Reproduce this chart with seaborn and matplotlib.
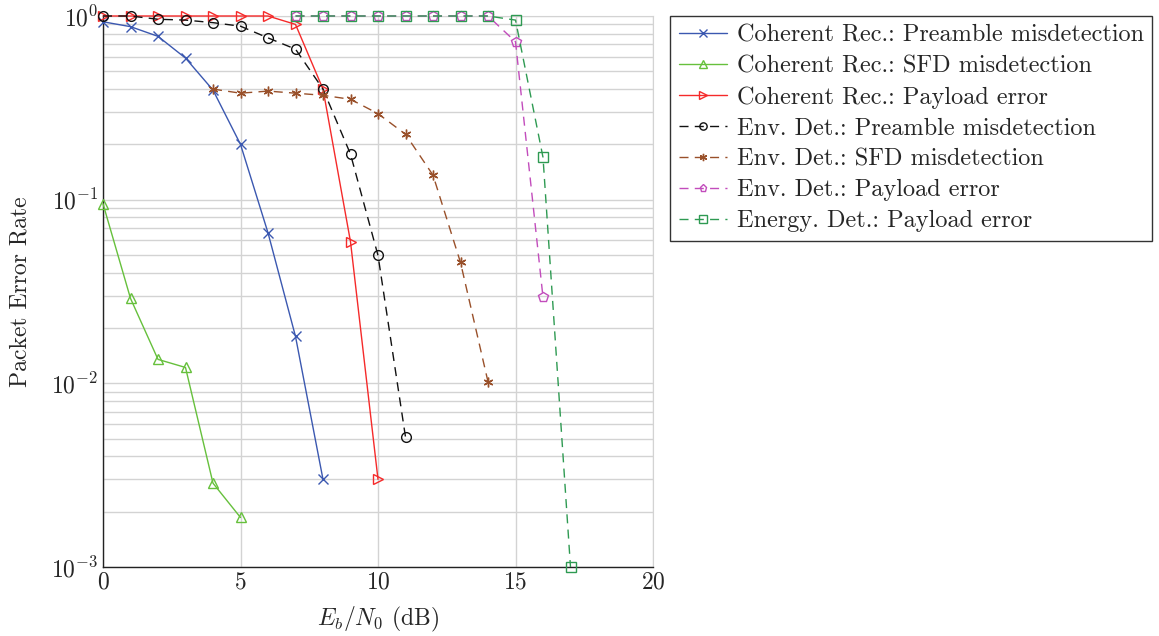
import numpy as np
import pandas as pd
import seaborn as sns
import matplotlib.pyplot as plt
from matplotlib.ticker import LogLocator, LogFormatterSciNotation, NullFormatter

# values
x_coh_pre = [0, 1, 2, 3, 4, 5, 6, 7, 8]
y_coh_pre = [0.93, 0.875, 0.775, 0.59, 0.395, 0.2, 0.066, 0.018, 0.003]

x_coh_sfd = [0, 1, 2, 3, 4, 5]
y_coh_sfd = [0.095, 0.029, 0.0135, 0.0122, 0.00286, 0.00186]

x_coh_pay = [0, 1, 2, 3, 4, 5, 6, 7, 8, 9, 10]
y_coh_pay = [1.0, 1.0, 1.0, 1.0, 1.0, 1.0, 1.0, 0.90, 0.40, 0.059, 0.003]

x_env_pre = [0, 1, 2, 3, 4, 5, 6, 7, 8, 9, 10, 11]
y_env_pre = [1.0, 1.0, 0.96, 0.95, 0.92, 0.88, 0.76, 0.66, 0.40, 0.177, 0.0497, 0.0051]

x_env_sfd = [4, 5, 6, 7, 8, 9, 10, 11, 12, 13, 14]
y_env_sfd = [0.40, 0.38, 0.39, 0.38, 0.37, 0.352, 0.294, 0.227, 0.136, 0.0455, 0.0102]

x_env_pay = [7, 8, 9, 10, 11, 12, 13, 14, 15, 16]
y_env_pay = [1.0, 1.0, 1.0, 1.0, 1.0, 1.0, 1.0, 1.0, 0.724, 0.0294]

x_ene_pay = [7, 8, 9, 10, 11, 12, 13, 14, 15, 16, 17]
y_ene_pay = [1.0, 1.0, 1.0, 1.0, 1.0, 1.0, 1.0, 1.0, 0.95, 0.17, 0.001]

dash = (0, (6.5, 4.5))
series = [
    ("Coherent Rec.: Preamble misdetection", x_coh_pre, y_coh_pre, "#3b58b0", "x", "-"),
    ("Coherent Rec.: SFD misdetection", x_coh_sfd, y_coh_sfd, "#66c03c", "^", "-"),
    ("Coherent Rec.: Payload error", x_coh_pay, y_coh_pay, "#f52a2a", ">", "-"),
    ("Env. Det.: Preamble misdetection", x_env_pre, y_env_pre, "#111111", "o", dash),
    ("Env. Det.: SFD misdetection", x_env_sfd, y_env_sfd, "#99502a", (6, 2, 0), dash),
    ("Env. Det.: Payload error", x_env_pay, y_env_pay, "#c24cbc", "p", dash),
    ("Energy. Det.: Payload error", x_ene_pay, y_ene_pay, "#2e9a52", "s", dash),
]

sns.set_style("white")
plt.rcParams["font.family"] = "serif"
plt.rcParams["font.serif"] = ["cmr10"]
plt.rcParams["mathtext.fontset"] = "cm"
plt.rcParams["axes.formatter.use_mathtext"] = True

fig = plt.figure(figsize=(11.59, 6.36), dpi=100)
ax = fig.add_axes([103 / 1159, 1 - 567 / 636, 550 / 1159, 551 / 636])

for name, xs, ys, col, mk, ls in series:
    df = pd.DataFrame({"snr": xs, "per": ys})
    sns.lineplot(data=df, x="snr", y="per", ax=ax, color=col, marker=mk,
                 linestyle=ls, linewidth=1.0, markersize=7, markerfacecolor="none",
                 markeredgecolor=col, markeredgewidth=1.0, label=name, clip_on=False,
                 zorder=3)

ax.set_yscale("log")
ax.set_xlim(0, 20)
ax.set_ylim(1e-3, 1)
ax.set_xticks([0, 5, 10, 15, 20])
ax.yaxis.set_major_locator(LogLocator(base=10, numticks=10))
ax.yaxis.set_minor_locator(LogLocator(base=10, subs=np.arange(2, 10), numticks=10))
ax.yaxis.set_major_formatter(LogFormatterSciNotation())
ax.yaxis.set_minor_formatter(NullFormatter())

ax.grid(True, which="major", axis="both", color="#d3d3d3", linewidth=1.0)
ax.grid(True, which="minor", axis="y", color="#d3d3d3", linewidth=1.0)
ax.set_axisbelow(True)

for side in ["top", "right"]:
    ax.spines[side].set_color("#d3d3d3")
for side in ["left", "bottom"]:
    ax.spines[side].set_color("#222222")
    ax.spines[side].set_linewidth(1.0)

ax.tick_params(axis="both", which="both", direction="in", labelsize=17,
               color="#444444", length=4)
ax.tick_params(axis="y", which="minor", length=2.5)
ax.tick_params(axis="x", top=False)

ax.set_xlabel("$E_b/N_0$ (dB)", fontsize=17, labelpad=8)
ax.set_ylabel("Packet Error Rate", fontsize=17, labelpad=14)

ax.legend(loc="upper left", bbox_to_anchor=(670 / 1159, 1 - 16 / 636),
          bbox_transform=fig.transFigure, borderaxespad=0, fontsize=17.5,
          frameon=True, fancybox=False, edgecolor="#333333", framealpha=1,
          borderpad=0.35, labelspacing=0.36, handlelength=2.0, handletextpad=0.4,
          markerscale=0.75)

fig.savefig("out.png", dpi=100)
